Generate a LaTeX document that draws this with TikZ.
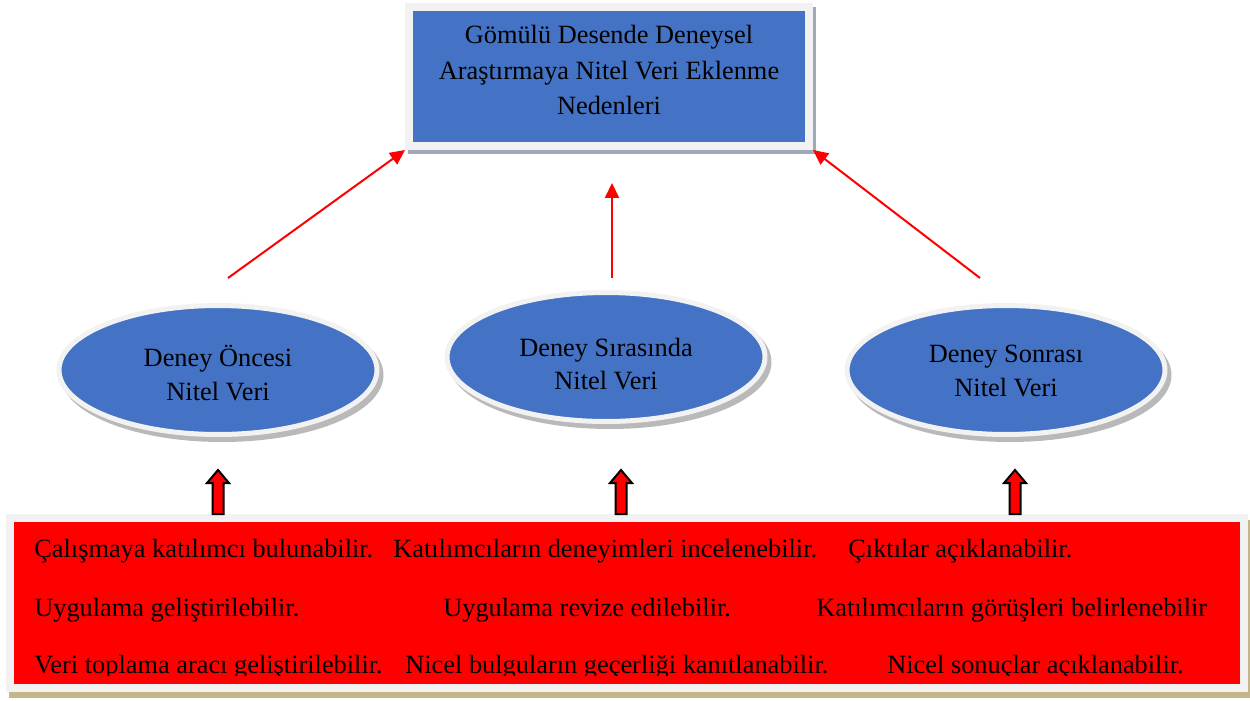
\documentclass[tikz,border=0pt]{standalone}
\usepackage{fontspec}
\setmainfont{Liberation Serif}
\usepackage{tikz}
\usetikzlibrary{shapes, arrows.meta, positioning}

\definecolor{boxblue}{RGB}{68,114,196}
\definecolor{rimgray}{RGB}{242,242,242}
\definecolor{shadeblue}{RGB}{160,168,186}
\definecolor{shadetan}{RGB}{196,181,138}

\begin{document}
\begin{tikzpicture}[x=0.02cm, y=-0.02cm,
            reason/.style={draw=rimgray, line width=0.16cm, fill=boxblue, minimum width=8cm, minimum height=2.78cm,
                preaction={draw=shadeblue, fill=shadeblue, line width=0.16cm, transform canvas={xshift=0.06cm, yshift=-0.08cm}}},
            stage/.style={ellipse, draw=rimgray, line width=0.1cm, fill=boxblue, minimum width=6.36cm, minimum height=2.58cm, inner sep=0,
                preaction={draw=gray!55, fill=gray!55, line width=0.1cm, transform canvas={xshift=0.08cm, yshift=-0.1cm}}},
            caption/.style={align=center, inner sep=0, font=\fontsize{15}{19}\selectfont},
            facts/.style={draw=rimgray, line width=0.16cm, fill=red, minimum width=24.68cm, minimum height=3.4cm,
                preaction={draw=shadetan, line width=0.16cm, transform canvas={xshift=0.06cm, yshift=-0.12cm}}},
            fact/.style={anchor=base west, inner sep=0, font=\fontsize{15}{18}\selectfont},
            lead/.style={-{Triangle[length=0.3cm, width=0.28cm]}, red, line width=0.04cm},
            blockarr/.style={fill=red, draw=black, line width=0.04cm, line join=miter}]

            \useasboundingbox (0,0) rectangle (1250,700);

            % top box
            \node[reason] (top) at (609,76.5) {};
            \node[caption, font=\fontsize{15}{20}\selectfont] (toptext) at (609,70) {
                Gömülü Desende Deneysel\\
                Araştırmaya Nitel Veri Eklenme\\
                Nedenleri
            };

            % ellipses
            \node[stage] (before) at (218,370) {};
            \node[stage] (during) at (606,357) {};
            \node[stage] (after) at (1006,370) {};
            \node[caption] (beforetext) at (218,373) {Deney Öncesi\\Nitel Veri};
            \node[caption] (duringtext) at (606,364) {Deney Sırasında\\Nitel Veri};
            \node[caption] (aftertext) at (1006,371) {Deney Sonrası\\Nitel Veri};

            % arrows to top box
            \coordinate (t1) at (228,278);
            \coordinate (t2) at (612,278);
            \coordinate (t3) at (980,278);
            \draw[lead] (t1) -- (top.south west);
            \draw[lead, shorten >=0.66cm] (t2) -- (t2 |- top.south);
            \draw[lead] (t3) -- (top.south east);

            % bottom box
            \node[facts] (list) at (627,603) {};

            \begin{scope}
                \clip (14,522) rectangle (1240,675);
                \node[fact] (f11) at (34,557) {Çalışmaya katılımcı bulunabilir.};
                \node[fact] (f12) at (393,557) {Katılımcıların deneyimleri incelenebilir.};
                \node[fact] (f13) at (848,557) {Çıktılar açıklanabilir.};
                \node[fact] (f21) at (34,616) {Uygulama geliştirilebilir.};
                \node[fact] (f22) at (443,616) {Uygulama revize edilebilir.};
                \node[fact] (f23) at (816,616) {Katılımcıların görüşleri belirlenebilir};
                \node[fact] (f31) at (34,673) {Veri toplama aracı geliştirilebilir.};
                \node[fact] (f32) at (405,673) {Nicel bulguların geçerliği kanıtlanabilir.};
                \node[fact] (f33) at (887,673) {Nicel sonuçlar açıklanabilir.};
            \end{scope}

            % block arrows
            \coordinate (up1) at (218,514);
            \coordinate (up2) at (621,514);
            \coordinate (up3) at (1015,514);
            \foreach \u in {up1, up2, up3}
                \draw[blockarr] (\u) ++(-5.5,0) -- ++(0,-31) -- ++(-5.5,0) -- ++(11,-13) -- ++(11,13) -- ++(-5.5,0) -- ++(0,31) -- cycle;
        \end{tikzpicture}
\end{document}
